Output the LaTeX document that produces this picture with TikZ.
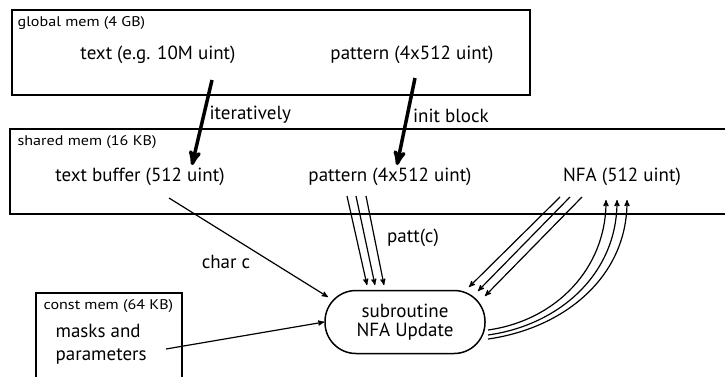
\documentclass[tikz,border=0pt]{standalone}
\usepackage{fontspec}
\setmainfont{PT Sans}
\newfontfamily\memfont[FakeStretch=1.15]{PT Sans}
\usetikzlibrary{arrows,positioning,calc}

\begin{document}
\begin{tikzpicture}[x=1pt,y=-1pt,>=stealth',semithick,
                    every node/.style={font=\fontsize{19}{19}\selectfont},
                    memlabel/.style={anchor=west,font=\memfont\fontsize{14}{15}\selectfont},
                    membox/.style={draw,line width=1.8pt},
                    bigarrow/.style={->,line width=3.5pt},
                    thinarrow/.style={->,line width=1.2pt}]
  \useasboundingbox (0,0) rectangle (725,376);

  % memory regions
  \draw[membox] (12,10) rectangle (530,95);
  \draw[membox] (10,129) rectangle (745,214);
  \draw[membox] (36,293) rectangle (182,395);
  \node[memlabel] (glabel) at (14,23)  {global mem (4 GB)};
  \node[memlabel] (slabel) at (14,142) {shared mem (16 KB)};
  \node[memlabel] (clabel) at (40,306) {const mem (64 KB)};

  \node (gtext) at (158,55)  {text (e.g. 10M uint)};
  \node (gpat)  at (412,55)  {pattern (4x512 uint)};
  \node (tbuf)  at (140,177) {text buffer (512 uint)};
  \node (spat)  at (390,177) {pattern (4x512 uint)};
  \node (nfa)   at (622,177) {NFA (512 uint)};
  \node[anchor=west,align=left,font=\fontsize{19}{23}\selectfont]
        (masks) at (52,344) {masks and\\parameters};
  \node[draw,line width=1.5pt,rounded corners=31pt,minimum width=160pt,
        minimum height=63pt,align=center,inner sep=2pt]
        (sub) at (405,322) {subroutine\\NFA Update};

  % transfers
  \draw[bigarrow] ([shift={(54,25)}]gtext.center) -- ([shift={(52,-12)}]tbuf.center)
        node[pos=0.41,anchor=west,inner sep=4pt] {iteratively};
  \draw[bigarrow] ([shift={(3,23)}]gpat.center) -- ([shift={(7,-12)}]spat.center)
        node[pos=0.43,anchor=west,inner sep=4pt] {init block};
  \draw[thinarrow] ([shift={(29,21)}]tbuf.center) -- ([shift={(-77,-25)}]sub.center);
  \node (charc) at (226,262) {char c};

  \foreach \a/\b in {-43/-38,-34/-30,-24/-21}
    \draw[thinarrow] ([shift={(\a,19)}]spat.center) -- ([shift={(\b,-37)}]sub.center);
  \node (pattc) at (413,238) {patt(c)};

  \foreach \a/\b/\c in {-62/64/-35,-52/73/-31,-40/80/-26}
    \draw[thinarrow] ([shift={(\a,20)}]nfa.center) -- ([shift={(\b,\c)}]sub.center);
  \foreach \a/\b in {8/-16,13/-5,17/5}
    \draw[thinarrow] ([shift={(83,\a)}]sub.center) to[out=8,in=-90]
          ([shift={(\b,23)}]nfa.center);

  \draw[thinarrow] ([shift={(114,5)}]masks.west) -- (sub.west);
\end{tikzpicture}
\end{document}
